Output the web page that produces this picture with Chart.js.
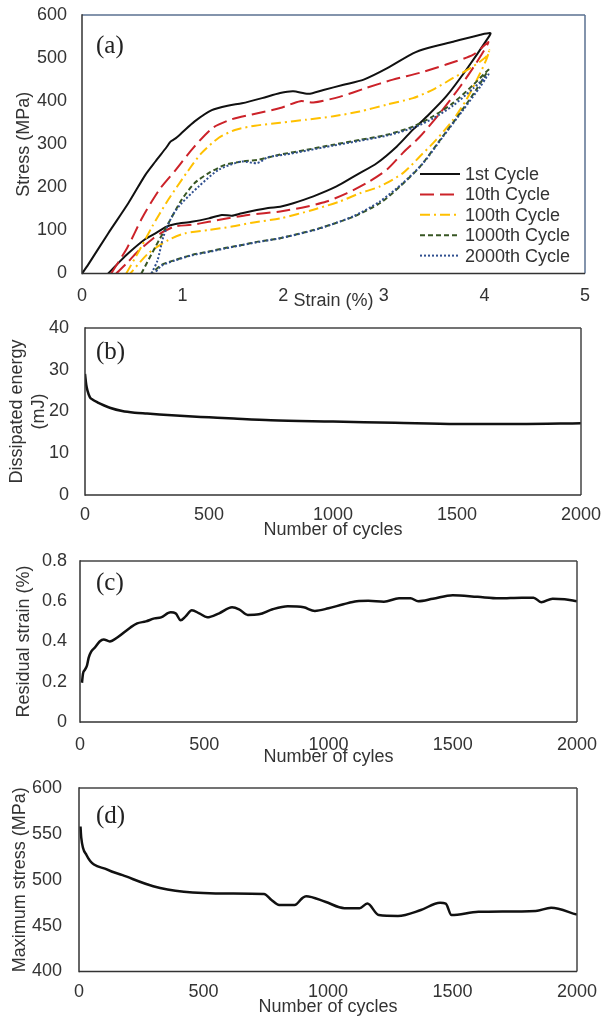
<!DOCTYPE html>
<html>
<head>
<meta charset="utf-8">
<script src="https://cdn.jsdelivr.net/npm/chart.js@4/dist/chart.umd.min.js"></script>
<style>
  html, body { margin: 0; padding: 0; background: #fff; }
  #wrap { position: relative; width: 601px; height: 1018px; overflow: hidden; }
  .panel { position: absolute; left: 0; width: 601px; }
</style>
</head>
<body>
<div id="wrap">
  <div class="panel" style="top:0;height:312px"><canvas id="pa"></canvas></div>
  <div class="panel" style="top:312px;height:230px"><canvas id="pb"></canvas></div>
  <div class="panel" style="top:542px;height:230px"><canvas id="pc"></canvas></div>
  <div class="panel" style="top:772px;height:246px"><canvas id="pd"></canvas></div>
</div>
<script>
// ---- (a) stress–strain loops (loading branch, then unloading branch) ----
const cycleLabels = ['1st Cycle', '10th Cycle', '100th Cycle', '1000th Cycle', '2000th Cycle'];

const c1Strain = [0, 0.06, 0.26, 0.46, 0.63, 0.73, 0.84, 0.88, 0.92, 0.99, 1.12, 1.29, 1.46, 1.59, 1.79, 1.97, 2.10, 2.25, 2.40, 2.60, 2.80, 3.03, 3.29, 3.43, 3.69, 3.96, 4.06,
                  4.04, 3.82, 3.62, 3.43, 3.29, 3.13, 2.93, 2.73, 2.53, 2.30, 2.10, 1.97, 1.85, 1.59, 1.49, 1.39, 1.26, 1.09, 0.93, 0.84, 0.73, 0.63, 0.46, 0.36, 0.26];
const c1Stress = [0, 20, 93, 163, 229, 260, 293, 306, 312, 326, 353, 379, 390, 395, 407, 419, 423, 417, 426, 438, 450, 476, 511, 523, 538, 554, 558,
                  548, 473, 411, 365, 334, 295, 256, 229, 202, 179, 163, 155, 152, 140, 134, 136, 128, 120, 115, 109, 93, 80, 47, 24, 0];

const c10Strain = [0.29, 0.45, 0.60, 0.77, 0.93, 1.10, 1.30, 1.49, 1.69, 1.97, 2.17, 2.30, 2.56, 2.83, 3.09, 3.36, 3.62, 3.89, 4.04,
                   3.92, 3.76, 3.56, 3.36, 3.19, 3.03, 2.83, 2.63, 2.43, 2.23, 1.97, 1.65, 1.45, 1.26, 1.09, 0.92, 0.81, 0.71, 0.55, 0.45, 0.34];
const c10Stress = [0, 60, 130, 195, 240, 290, 338, 358, 369, 384, 400, 397, 410, 431, 450, 466, 485, 508, 537,
                   489, 434, 373, 318, 280, 241, 210, 186, 167, 155, 144, 136, 128, 120, 113, 109, 97, 82, 50, 25, 0];

const c100Strain = [0.44, 0.59, 0.70, 0.84, 0.94, 1.05, 1.19, 1.36, 1.52, 1.72, 1.97, 2.23, 2.50, 2.76, 3.03, 3.29, 3.49, 3.69, 3.89, 4.02, 4.05,
                    4.02, 3.96, 3.82, 3.69, 3.52, 3.36, 3.19, 2.96, 2.76, 2.56, 2.30, 1.97, 1.69, 1.49, 1.26, 1.02, 0.86, 0.66, 0.48];
const c100Stress = [0, 62, 110, 165, 200, 237, 280, 315, 333, 343, 350, 357, 365, 376, 392, 407, 427, 454, 481, 504, 518,
                    497, 466, 403, 357, 310, 272, 233, 202, 186, 167, 148, 128, 118, 109, 101, 93, 78, 47, 0];

const c1000Strain = [0.59, 0.73, 0.86, 0.99, 1.12, 1.26, 1.42, 1.59, 1.75, 1.97, 2.23, 2.50, 2.76, 3.03, 3.29, 3.49, 3.69, 3.89, 4.04,
                     4.02, 3.92, 3.76, 3.56, 3.36, 3.16, 2.96, 2.70, 2.47, 2.30, 1.97, 1.75, 1.59, 1.42, 1.26, 1.09, 0.92, 0.79, 0.69];
const c1000Stress = [0, 62, 117, 171, 210, 233, 252, 260, 264, 276, 287, 299, 310, 322, 341, 365, 396, 438, 473,
                     465, 427, 373, 310, 248, 202, 163, 132, 113, 101, 82, 74, 66, 59, 51, 43, 31, 20, 0];

const c2000Strain = [0.69, 0.75, 0.81, 0.90, 0.99, 1.16, 1.36, 1.59, 1.74, 1.85, 2.02, 2.23, 2.50, 2.76, 3.03, 3.29, 3.49, 3.69, 3.89, 4.04,
                     4.02, 3.96, 3.79, 3.59, 3.39, 3.19, 2.96, 2.70, 2.47, 2.30, 1.97, 1.75, 1.59, 1.42, 1.26, 1.09, 0.92, 0.79, 0.72];
const c2000Stress = [0, 30, 86, 135, 163, 202, 241, 260, 256, 270, 276, 285, 297, 308, 320, 338, 360, 390, 430, 462,
                     455, 434, 380, 318, 256, 210, 167, 133, 113, 100, 82, 73, 66, 58, 50, 42, 30, 18, 0];

const strainTicks = [0, 1, 2, 3, 4, 5];
const stressTicks = [0, 100, 200, 300, 400, 500, 600];

// ---- (b) dissipated energy per cycle ----
const energyCycles = [0, 5, 10, 20, 30, 50, 75, 100, 150, 200, 250, 300, 400, 500, 600, 750, 1000, 1250, 1500, 1750, 2000];
const energyValues = [29.0, 26.4, 25.0, 23.4, 22.9, 22.2, 21.5, 20.9, 20.1, 19.7, 19.5, 19.3, 18.9, 18.6, 18.3, 17.9, 17.6, 17.3, 17.0, 17.0, 17.2];
const energyTicks = [0, 10, 20, 30, 40];

// ---- (c) residual strain per cycle ----
const residualCycles = [8, 12, 20, 28, 35, 45, 60, 79, 95, 120, 150, 203, 230, 265, 300, 326, 365, 385, 405, 425, 450, 480, 512, 560, 612, 640, 675, 720,
                        775, 836, 900, 945, 1000, 1060, 1114, 1160, 1223, 1284, 1330, 1361, 1420, 1500, 1600, 1686, 1778, 1825, 1856, 1902, 1950, 2000];
const residualValues = [0.195, 0.24, 0.26, 0.28, 0.32, 0.35, 0.37, 0.40, 0.41, 0.40, 0.42, 0.47, 0.49, 0.50, 0.515, 0.52, 0.545, 0.54, 0.505, 0.525, 0.555, 0.54, 0.52, 0.54, 0.57, 0.56, 0.532, 0.535,
                        0.56, 0.575, 0.57, 0.552, 0.565, 0.585, 0.60, 0.602, 0.598, 0.615, 0.615, 0.60, 0.612, 0.63, 0.622, 0.615, 0.618, 0.618, 0.595, 0.613, 0.61, 0.60];
const residualTicks = [0, 0.2, 0.4, 0.6, 0.8];

// ---- (d) maximum stress per cycle ----
const maxStressCycles = [6, 9, 30, 114, 175, 298, 421, 605, 743, 773, 804, 866, 897, 912, 989, 1066, 1127, 1158, 1204, 1281, 1373, 1450, 1473, 1496, 1604, 1834, 1896, 2000];
const maxStressValues = [558, 546, 527, 511, 505, 493, 487, 485, 484.5, 478, 472.5, 472.5, 480, 482, 476, 469, 469, 474, 461.5, 460.5, 467, 475, 474, 461.5, 465, 466, 469.5, 462];
const maxStressTicks = [400, 450, 500, 550, 600];

const cycleTicks = [0, 500, 1000, 1500, 2000];

// ---- shared styling ----
const SANS = '"Liberation Sans", Arial, Helvetica, sans-serif';
const SERIF = '"Liberation Serif", "Times New Roman", serif';
const TEXT = '#333333';

function pts(xs, ys) { return xs.map((x, i) => ({ x: x, y: ys[i] })); }

function scale(o) {
  return {
    type: 'linear',
    position: o.position,
    min: o.min, max: o.max,
    grid: { display: false, drawTicks: false },
    border: { display: false },
    afterBuildTicks: s => { s.ticks = o.ticks.map(v => ({ value: v })); },
    afterFit: s => {
      if (o.position === 'left') s.width = o.size; else s.height = o.size;
      // end labels may run past the plot edge, as in the printed figure
      s.paddingLeft = s.paddingRight = s.paddingTop = s.paddingBottom = 0;
    },
    ticks: {
      color: TEXT, padding: o.tickPad, autoSkip: false, maxRotation: 0,
      font: { family: SANS, size: 18 },
      callback: v => String(v)
    },
    title: {
      display: true, text: o.title, color: TEXT,
      font: { family: SANS, size: 18, lineHeight: o.titleLH || 1.2 },
      padding: o.titlePad
    }
  };
}

// frame, panel letter and (optional) legend drawn on top of the plot
const decor = {
  id: 'decor',
  afterDatasetsDraw(chart, args, opt) {
    const ctx = chart.ctx, a = chart.chartArea;
    ctx.save();
    ctx.lineCap = 'butt';
    const sides = opt.sides;
    const line = (x1, y1, x2, y2, c, w) => {
      ctx.beginPath(); ctx.strokeStyle = c; ctx.lineWidth = w;
      ctx.moveTo(x1, y1); ctx.lineTo(x2, y2); ctx.stroke();
    };
    line(a.left, a.top, a.right, a.top, sides.top, 1.5);
    line(a.right, a.top, a.right, a.bottom, sides.right, 1.5);
    line(a.left, a.bottom, a.right, a.bottom, sides.bottom, 1.5);
    line(a.left, a.top - 0.75, a.left, a.bottom + 0.75, sides.left, 1.5);

    ctx.fillStyle = '#222';
    ctx.font = '25px ' + SERIF;
    ctx.textBaseline = 'middle';
    ctx.textAlign = 'left';
    ctx.fillText(opt.letter, opt.letterX, opt.letterY);

    if (opt.legend) {
      const L = opt.legend;
      ctx.font = '18px ' + SANS;
      chart.data.datasets.forEach((ds, i) => {
        const y = L.y + i * L.step;
        ctx.beginPath();
        ctx.setLineDash(ds.borderDash || []);
        ctx.strokeStyle = ds.borderColor;
        ctx.lineWidth = ds.borderWidth;
        ctx.moveTo(L.x, y); ctx.lineTo(L.x + L.len, y); ctx.stroke();
        ctx.setLineDash([]);
        ctx.fillStyle = TEXT;
        ctx.fillText(ds.label, L.x + L.len + 5, y + 1);
      });
    }
    ctx.restore();
  }
};

const common = {
  responsive: true,
  maintainAspectRatio: false,
  animation: false,
  events: [],
  plugins: { legend: { display: false }, tooltip: { enabled: false } }
};

// ---- (a) ----
const loopStyles = [
  { color: '#111111', dash: [] },
  { color: '#CC2229', dash: [14, 6] },
  { color: '#FFC000', dash: [10, 4, 2, 4] },
  { color: '#375623', dash: [5, 3] },
  { color: '#2F4F8F', dash: [2, 2] }
];
const loops = [[c1Strain, c1Stress], [c10Strain, c10Stress], [c100Strain, c100Stress], [c1000Strain, c1000Stress], [c2000Strain, c2000Stress]];

new Chart(document.getElementById('pa'), {
  type: 'scatter',
  data: {
    datasets: loops.map((l, i) => ({
      label: cycleLabels[i],
      data: pts(l[0], l[1]),
      showLine: true, pointRadius: 0, tension: 0.25,
      borderColor: loopStyles[i].color, borderDash: loopStyles[i].dash, borderWidth: 2,
      order: 5 - i
    }))
  },
  options: Object.assign({}, common, {
    layout: { padding: { top: 15, right: 16, left: 0, bottom: 0 } },
    scales: {
      x: scale({ position: 'bottom', min: 0, max: 5, ticks: strainTicks, size: 38.5, tickPad: 12, title: 'Strain (%)', titlePad: { top: 0, bottom: 0 } }),
      y: scale({ position: 'left', min: 0, max: 600, ticks: stressTicks, size: 82, tickPad: 15, title: 'Stress (MPa)', titlePad: { top: 13, bottom: 0 } })
    },
    plugins: Object.assign({}, common.plugins, {
      decor: {
        sides: { top: '#5A7090', right: '#5A7090', bottom: '#333333', left: '#333333' },
        letter: '(a)', letterX: 96, letterY: 46,
        legend: { x: 420, y: 174, step: 20.4, len: 40 }
      }
    })
  }),
  plugins: [decor]
});

// ---- (b)–(d): single series against cycle number ----
function cycleChart(id, xs, ys, yMin, yMax, yTicks, yTitle, xTitle, g) {
  return new Chart(document.getElementById(id), {
    type: 'scatter',
    data: {
      datasets: [{
        label: Array.isArray(yTitle) ? yTitle.join(' ') : yTitle,
        data: pts(xs, ys),
        showLine: true, pointRadius: 0,
        cubicInterpolationMode: 'monotone',
        borderColor: '#111111', borderWidth: 2.5
      }]
    },
    options: Object.assign({}, common, {
      layout: { padding: { top: g.top, right: g.right, left: 0, bottom: 0 } },
      scales: {
        x: scale({ position: 'bottom', min: 0, max: 2000, ticks: cycleTicks, size: g.xSize, tickPad: g.xPad, title: xTitle, titlePad: { top: 0, bottom: g.xTitlePad } }),
        y: scale({ position: 'left', min: yMin, max: yMax, ticks: yTicks, size: g.ySize, tickPad: g.yPad, title: yTitle, titleLH: g.yLH, titlePad: { top: g.yTitlePad, bottom: 0 } })
      },
      plugins: Object.assign({}, common.plugins, {
        decor: {
          sides: { top: '#444444', right: '#444444', bottom: '#333333', left: '#333333' },
          letter: g.letter, letterX: 96, letterY: g.letterY
        }
      })
    }),
    plugins: [decor]
  });
}

cycleChart('pb', energyCycles, energyValues, 0, 40, energyTicks, ['Dissipated energy', '(mJ)'], 'Number of cycles',
  { top: 16, right: 20, xSize: 47, xPad: 9, xTitlePad: 1, ySize: 85, yPad: 16, yLH: 1.17, yTitlePad: 7, letter: '(b)', letterY: 40 });

cycleChart('pc', residualCycles, residualValues, 0, 0.8, residualTicks, 'Residual strain (%)', 'Number of cyles',
  { top: 19, right: 24, xSize: 50, xPad: 12, xTitlePad: 4, ySize: 80, yPad: 13, yTitlePad: 13, letter: '(c)', letterY: 41 });

cycleChart('pd', maxStressCycles, maxStressValues, 400, 600, maxStressTicks, 'Maximum stress (MPa)', 'Number of cycles',
  { top: 16, right: 24, xSize: 46.5, xPad: 10, xTitlePad: 0, ySize: 79, yPad: 17, yTitlePad: 9, letter: '(d)', letterY: 44 });
</script>
</body>
</html>
